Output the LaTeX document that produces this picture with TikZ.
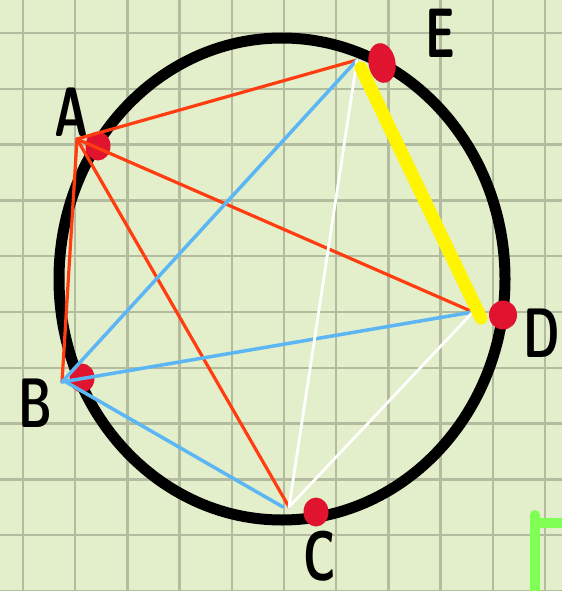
\documentclass[tikz,border=0pt]{standalone}
\usepackage{graphicx}
\usepackage{tikz}
\usetikzlibrary{shapes.geometric}
\definecolor{ggpaper}{HTML}{E3EECB}
\definecolor{gggrid}{HTML}{B3BC9E}
\definecolor{ggred}{HTML}{FF3D10}
\definecolor{ggblue}{HTML}{5CB6F4}
\definecolor{ggdot}{HTML}{E0142E}
\definecolor{ggyellow}{HTML}{FFF500}
\definecolor{gglime}{HTML}{80FF55}
\newcommand{\handletter}[1]{\scalebox{0.66}[1]{#1}}

\begin{document}
\begin{tikzpicture}[x=1pt,y=-1pt,
  rim/.style={line width=11pt,black},
  gridline/.style={line width=2.4pt,gggrid},
  chordA/.style={line width=3.2pt,ggred,line cap=round},
  chordB/.style={line width=3.5pt,ggblue,line cap=round},
  chordC/.style={line width=2.8pt,white,line cap=round},
  chordE/.style={line width=13pt,ggyellow,line cap=round},
  dot/.style={ellipse,fill=ggdot,inner sep=0pt,minimum width=25pt,minimum height=29pt},
  letter/.style={inner sep=0pt,font=\sffamily\bfseries\fontsize{70}{70}\selectfont},
  limestroke/.style={line width=10pt,gglime}]
  \fill[ggpaper] (0,0) rectangle (562,591);
  \useasboundingbox (0,0) rectangle (562,591);
  \foreach \k in {0,...,10} {
    \draw[gridline] (23+52.2*\k,0) -- (23+52.2*\k,591);
    \draw[gridline] (0,33+55.8*\k) -- (562,33+55.8*\k);
  }
  \draw[rim] (282,279) ellipse [x radius=223pt,y radius=241pt];

  \coordinate (A) at (77,139);
  \coordinate (B) at (62,382);
  \coordinate (C) at (289,507);
  \coordinate (D) at (473,312);
  \coordinate (E) at (357,60);

  \node[dot] (dotA) at (98,146) {};
  \node[dot] (dotB) at (82,378) {};
  \node[dot] (dotC) at (316,512) {};
  \node[dot,minimum width=28pt] (dotD) at (503,315) {};
  \node[dot,minimum width=27pt,minimum height=40pt,rotate=10] (dotE) at (382,63) {};

  \node[letter] (labA) at (71,112) {\handletter{A}};
  \node[letter] (labB) at (35,403) {\handletter{B}};
  \node[letter] (labC) at (320,556) {\handletter{C}};
  \node[letter] (labD) at (542,333) {\handletter{D}};
  \node[letter] (labE) at (440,33) {\handletter{E}};

  \draw[chordA] (A) -- (E);
  \draw[chordA] (A) -- (D);
  \draw[chordA] (A) -- (C);
  \draw[chordA] (A) -- (B);
  \draw[chordB] (B) -- (E);
  \draw[chordB] (B) -- (D);
  \draw[chordB] ([xshift=4pt]B) -- ([xshift=-6pt]C);
  \draw[chordC] (C) -- (E);
  \draw[chordC] (C) -- (D);
  \draw[chordE] ([shift={(4,8)}]E) -- ([shift={(8,6)}]D);

  \draw[limestroke,line cap=round] (535,591) -- (535,515);
  \draw[limestroke] (535,523) -- (562,523);
\end{tikzpicture}
\end{document}
